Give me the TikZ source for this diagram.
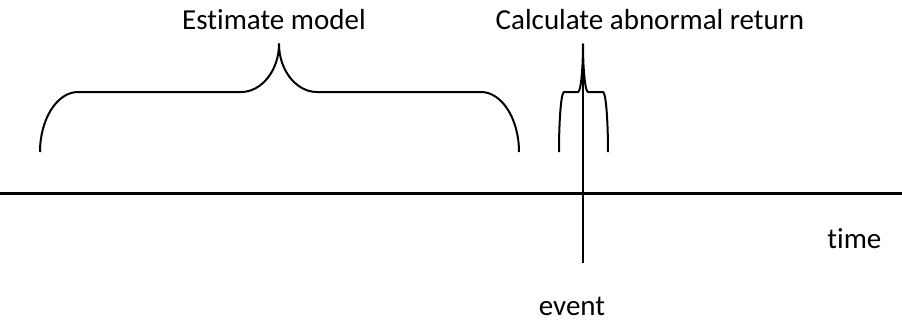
\documentclass[tikz,border=0pt]{standalone}
\usepackage{fontspec}
\setmainfont[Ligatures=NoCommon]{Carlito}
\tikzset{
  label text/.style={font=\fontsize{14.5}{17}\selectfont,inner sep=0pt,anchor=base},
  brace line/.style={line width=1pt,line join=round},
}
% #1 left end, #2 tip, #3 right end, #4 bend width
\newcommand{\windowbrace}[4]{%
  \draw[brace line] (#1,152) .. controls (#1,119) and ({#1+0.45*#4},92) .. ({#1+#4},92)
    -- ({#2-#4},92) .. controls ({#2-0.45*#4},92) and (#2,70) .. (#2,44)
    .. controls (#2,70) and ({#2+0.45*#4},92) .. ({#2+#4},92)
    -- ({#3-#4},92) .. controls ({#3-0.45*#4},92) and (#3,119) .. (#3,152);
}
\begin{document}
\begin{tikzpicture}[x=0.5pt,y=-0.5pt]
  \useasboundingbox (0,0) rectangle (902,323);
  % time axis
  \coordinate (axisL) at (0,193);
  \coordinate (axisR) at (902,193);
  \draw[line width=1.5pt] (axisL) -- (axisR);
  % event marker
  \coordinate (eventTop) at (583,44);
  \coordinate (eventBot) at (583,263);
  \draw[line width=1.2pt] (eventTop) -- (eventBot);
  % windows
  \windowbrace{40}{279}{519}{38}
  \windowbrace{559}{583}{608}{5}
  % labels
  \node[label text] (estimate) at (274,29) {Estimate model};
  \node[label text] (abnormal) at (650,29) {Calculate abnormal return};
  \node[label text,anchor=base west] (time) at (827,248) {time};
  \node[label text] (event) at (572,315) {event};
\end{tikzpicture}
\end{document}
